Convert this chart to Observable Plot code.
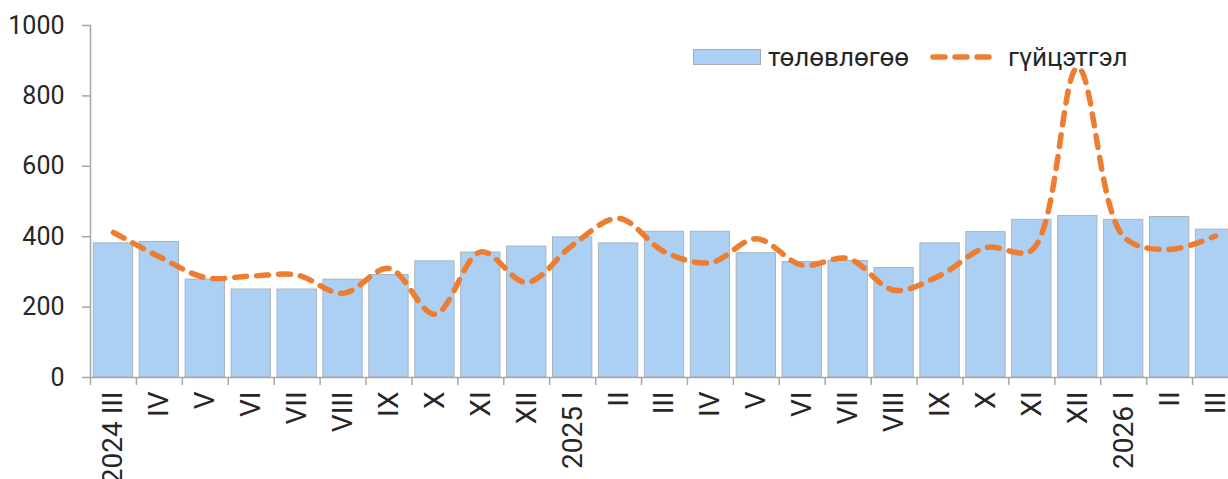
<!DOCTYPE html>
<html>
<head>
<meta charset="utf-8">
<script src="https://cdn.jsdelivr.net/npm/d3@7"></script>
<script src="https://cdn.jsdelivr.net/npm/@observablehq/plot@0.6"></script>
<style>
  html, body { margin: 0; padding: 0; background: #fff; overflow: hidden; }
  #wrap { position: relative; width: 1228px; height: 479px; overflow: hidden; font-family: Roboto, "Noto Sans", sans-serif; }
  #chart { width: 1238px; }
  #legend { position: absolute; left: 693px; top: 42px; display: flex; align-items: center; font-size: 26px; color: #262626; white-space: nowrap; }
  .sw { display: inline-block; width: 66px; height: 14px; background: #abd0f3; border: 1px solid #a3acb6; margin-right: 7px; }
  .ln { margin-left: 20px; margin-right: 5px; }
</style>
</head>
<body>
<div id="wrap">
  <div id="chart"></div>
  <div id="legend">
    <span class="sw"></span><span id="lab1"></span>
    <svg class="ln" width="74" height="14"><line x1="4" y1="7" x2="70" y2="7" stroke="#ed7d31" stroke-width="5.5" stroke-dasharray="12,10" stroke-linecap="round"/></svg><span id="lab2"></span>
  </div>
</div>
<script>
const labels = ["2024 III","IV","V","VI","VII","VIII","IX","X","XI","XII","2025 I","II","III","IV","V","VI","VII","VIII","IX","X","XI","XII","2026 I","II","III"];
const seriesNames = ["төлөвлөгөө", "гүйцэтгэл"];
const plan = [381,385,278,250,250,278,291,330,355,372,398,381,414,414,353,328,331,311,381,413,448,459,448,456,420];
const actual = [412,343,284,288,291,239,310,180,357,270,376,452,357,326,394,319,338,248,290,369,362,880,400,364,402];
const yTicks = [0,200,400,600,800,1000];

document.getElementById("lab1").textContent = seriesNames[0];
document.getElementById("lab2").textContent = seriesNames[1];

const n = labels.length;
const idx = d3.range(n);
const W = 1238, ML = 90;
const step = (W - ML) / n;
const axisColor = "#a6a6a6";
const textColor = "#262626";

const chart = Plot.plot({
  width: W,
  height: 479,
  marginLeft: ML,
  marginRight: 0,
  marginTop: 25,
  marginBottom: 102,
  style: { fontFamily: "Roboto, 'Noto Sans', sans-serif", color: textColor, background: "#fff", maxWidth: "none" },
  x: { type: "band", domain: idx, paddingInner: 0.144, paddingOuter: 0.072, round: false },
  y: { domain: [0, 1000] },
  marks: [
    Plot.barY(plan, { x: (d, i) => i, y: d => d, fill: "#abd0f3", stroke: "#a9b3bd", strokeWidth: 1 }),
    Plot.ruleY([0], { stroke: axisColor, strokeWidth: 1.5 }),
    Plot.frame({ anchor: "left", stroke: axisColor, strokeWidth: 1.5 }),
    Plot.axisY({ ticks: yTicks, tickSize: 8, tickPadding: 18, fontSize: 25, stroke: axisColor, strokeWidth: 1.5, fill: textColor, tickFormat: d => String(d), label: null }),
    Plot.axisX({ ticks: idx, tickSize: 8, dx: -step / 2, tickFormat: () => "", stroke: axisColor, strokeWidth: 1.5, label: null }),
    Plot.axisX({ ticks: idx, tickSize: 0, tickPadding: 14, tickRotate: -90, fontSize: 28, fill: textColor, tickFormat: i => labels[i], label: null }),
    Plot.lineY(actual, { x: (d, i) => i, y: d => d, curve: "catmull-rom", stroke: "#ed7d31", strokeWidth: 5.5, strokeDasharray: "12,10", strokeLinecap: "round" })
  ]
});
document.getElementById("chart").appendChild(chart);
</script>
</body>
</html>
